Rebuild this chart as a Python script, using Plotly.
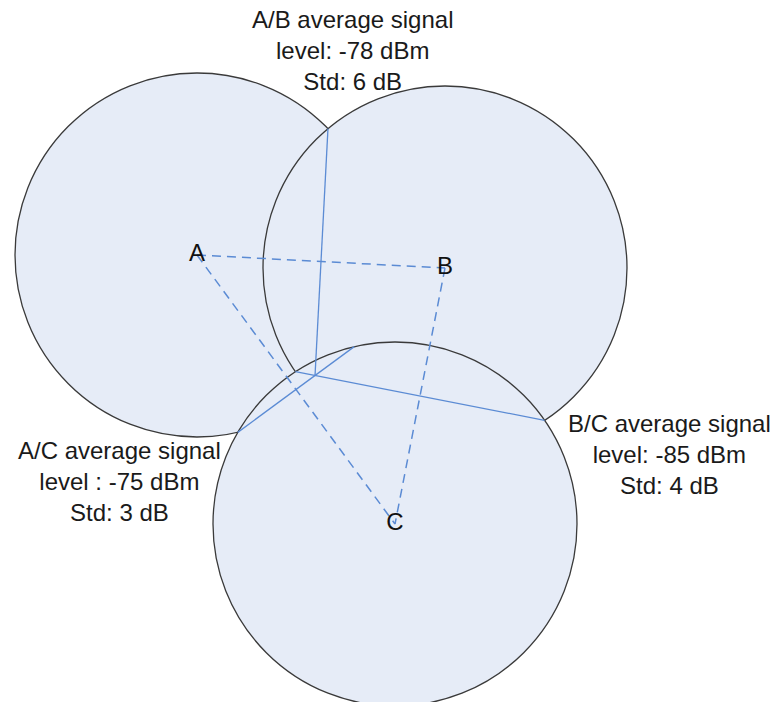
import numpy as np
import plotly.graph_objects as go

# cell sites (pixel-like coordinates, y grows downward)
sites = ["A", "B", "C"]
site_x = [197, 445, 395]
site_y = [255, 268, 524]
radius = [182, 182, 182]

# pairwise average signal captions
pairs = [("A", "B"), ("A", "C"), ("B", "C")]
pair_level = ["-78", "-75", "-85"]
pair_std = ["6", "3", "4"]
caption_x = [352, 119, 669]
caption_y = [50, 481, 454]

W, H = 777, 702
fill = "#E6ECF7"
blue = "#5B8BD4"


def intersections(i, j):
    p0 = np.array([site_x[i], site_y[i]], float)
    p1 = np.array([site_x[j], site_y[j]], float)
    r0, r1 = radius[i], radius[j]
    d = np.linalg.norm(p1 - p0)
    a = (r0**2 - r1**2 + d**2) / (2 * d)
    h = np.sqrt(r0**2 - a**2)
    u = (p1 - p0) / d
    mid = p0 + a * u
    perp = np.array([-u[1], u[0]])
    return mid + h * perp, mid - h * perp


idx = {s: k for k, s in enumerate(sites)}
ab = intersections(idx["A"], idx["B"])
ac = intersections(idx["A"], idx["C"])
bc = intersections(idx["B"], idx["C"])


def line_meet(p1, p2, q1, q2):
    d1, d2 = p2 - p1, q2 - q1
    t = np.cross(q1 - p1, d2) / np.cross(d1, d2)
    return p1 + t * d1


centre = line_meet(ac[0], ac[1], bc[0], bc[1])
ab_top = min(ab, key=lambda p: p[1])

fig = go.Figure()

shapes = []
for k in range(len(sites)):
    shapes.append(dict(type="circle", xref="x", yref="y",
                       x0=site_x[k] - radius[k], x1=site_x[k] + radius[k],
                       y0=site_y[k] - radius[k], y1=site_y[k] + radius[k],
                       fillcolor=fill, line=dict(color="#3a3a3a", width=1.3),
                       layer="below"))

# dashed links between sites
for a, b in pairs:
    fig.add_trace(go.Scatter(x=[site_x[idx[a]], site_x[idx[b]]],
                             y=[site_y[idx[a]], site_y[idx[b]]],
                             mode="lines", line=dict(color=blue, width=1.5, dash="9px,6px"),
                             hoverinfo="skip"))

# boundary chords
segs = [(ab_top, centre), (ac[0], ac[1]), (bc[0], bc[1])]
for p, q in segs:
    fig.add_trace(go.Scatter(x=[p[0], q[0]], y=[p[1], q[1]], mode="lines",
                             line=dict(color=blue, width=1.3), hoverinfo="skip"))

fig.add_trace(go.Scatter(x=site_x, y=site_y, mode="text", text=sites,
                         textfont=dict(family="Liberation Sans", size=24, color="#111"),
                         textposition="middle center", hoverinfo="skip"))

annotations = []
for k, (a, b) in enumerate(pairs):
    sep = " : " if (a, b) == ("A", "C") else ": "
    txt = f"{a}/{b} average signal<br>level{sep}{pair_level[k]} dBm<br>Std: {pair_std[k]} dB"
    annotations.append(dict(x=caption_x[k], y=caption_y[k], xref="x", yref="y",
                            text=txt, showarrow=False, align="center",
                            xanchor="center", yanchor="middle",
                            font=dict(family="Liberation Sans", size=24, color="#1a1a1a")))

fig.update_layout(width=W, height=H, margin=dict(l=0, r=0, t=0, b=0),
                  paper_bgcolor="white", plot_bgcolor="white",
                  showlegend=False, shapes=shapes, annotations=annotations,
                  xaxis=dict(range=[0, W], visible=False, fixedrange=True),
                  yaxis=dict(range=[H, 0], visible=False, fixedrange=True))

fig.write_html("out.html", config={"displayModeBar": False},
               post_script="document.body.style.margin='0';")
